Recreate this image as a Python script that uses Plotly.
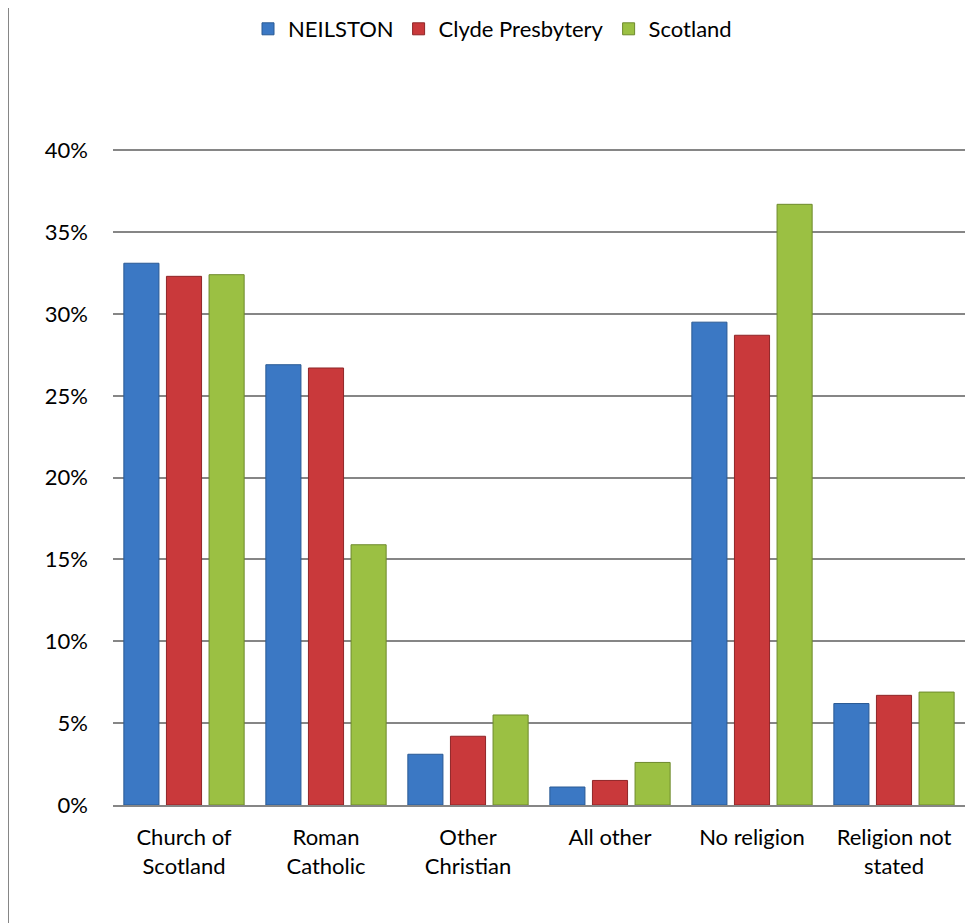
import plotly.graph_objects as go

categories = ["Church of<br>Scotland", "Roman<br>Catholic", "Other<br>Christian", "All other", "No religion", "Religion not<br>stated"]
neilston = [33.1, 26.9, 3.1, 1.1, 29.5, 6.2]
clyde = [32.3, 26.7, 4.2, 1.5, 28.7, 6.7]
scotland = [32.4, 15.9, 5.5, 2.6, 36.7, 6.9]
series_names = ["NEILSTON", "Clyde Presbytery", "Scotland"]
tick_vals = [0, 5, 10, 15, 20, 25, 30, 35, 40]
tick_text = ["0%", "5%", "10%", "15%", "20%", "25%", "30%", "35%", "40%"]

colors = ["#3b78c4", "#c9393b", "#9bc043"]
edges = ["#2a5a94", "#8f2527", "#6e8a2c"]

fig = go.Figure()
for name, vals, c, e in zip(series_names, [neilston, clyde, scotland], colors, edges):
    fig.add_trace(go.Bar(
        x=categories, y=vals, name=name,
        marker=dict(color=c, line=dict(color=e, width=1)),
    ))

fig.update_layout(
    width=969, height=915,
    paper_bgcolor="white", plot_bgcolor="white",
    margin=dict(l=105, r=12, t=141, b=118),
    barmode="group", bargap=0.10, bargroupgap=0.176,
    font=dict(family="Lato, 'Open Sans', sans-serif", size=22, color="#000000"),
    legend=dict(orientation="h", x=0.5, xanchor="center", xref="container",
                y=1.0, yref="container", yanchor="top",
                font=dict(size=22), itemwidth=30, traceorder="normal"),
    showlegend=True,
)
fig.update_yaxes(range=[0, 40.08], tickvals=tick_vals, ticktext=tick_text,
                 showgrid=True, gridcolor="#868686", gridwidth=1.5,
                 zeroline=False, showline=False, ticks="", ticklabelstandoff=24)
fig.update_xaxes(showline=True, linecolor="#868686", linewidth=2, ticks="",
                 ticklabelstandoff=12)
fig.add_shape(type="line", xref="paper", yref="paper", x0=-105/852, x1=-105/852,
              y0=-118/656, y1=1+141/656, line=dict(color="#868686", width=2))
fig.write_html("out.html")
